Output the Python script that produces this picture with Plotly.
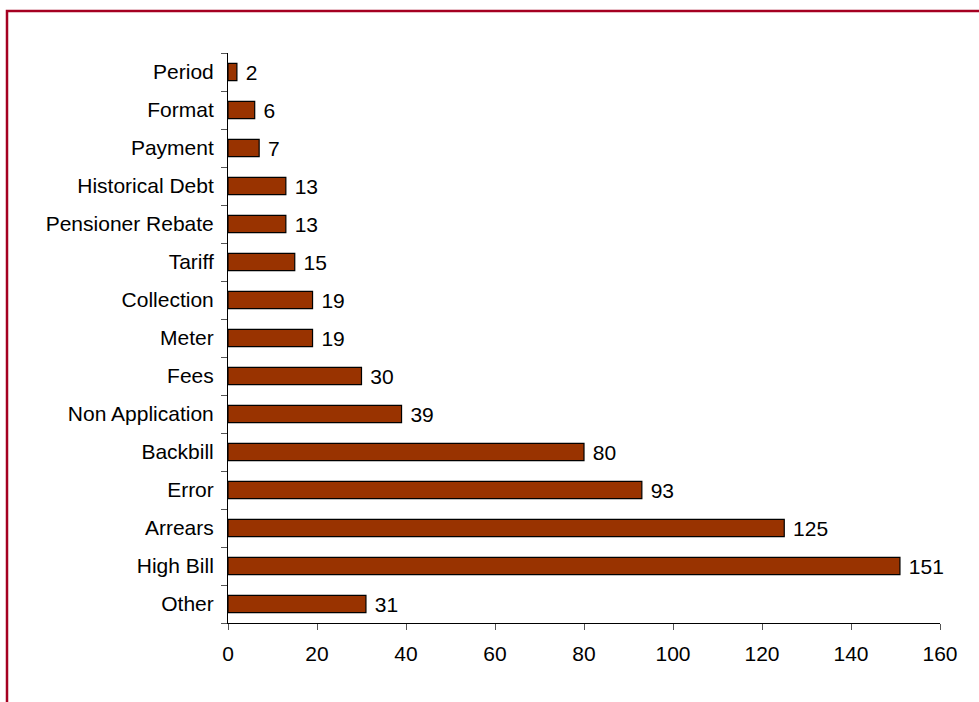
import plotly.graph_objects as go

# Complaint categories (bottom to top) and their counts
categories = [
    "Other", "High Bill", "Arrears", "Error", "Backbill", "Non Application",
    "Fees", "Meter", "Collection", "Tariff", "Pensioner Rebate",
    "Historical Debt", "Payment", "Format", "Period",
]
counts = [31, 151, 125, 93, 80, 39, 30, 19, 19, 15, 13, 13, 7, 6, 2]
x_ticks = [0, 20, 40, 60, 80, 100, 120, 140, 160]

FONT = "Liberation Sans, Arial, sans-serif"
FSIZE = 21

fig = go.Figure(
    go.Bar(
        x=counts,
        y=categories,
        orientation="h",
        width=0.45,
        marker=dict(color="#993300", line=dict(color="#000000", width=1.2)),
        texttemplate=" %{x}",
        textposition="outside",
        constraintext="none",
        textfont=dict(family=FONT, size=FSIZE, color="#000000"),
        cliponaxis=False,
    )
)

fig.update_layout(
    width=979,
    height=702,
    margin=dict(l=228, r=39, t=53, b=79),
    paper_bgcolor="white",
    plot_bgcolor="white",
    showlegend=False,
    font=dict(family=FONT, size=FSIZE, color="#000000"),
    xaxis=dict(
        range=[0, 160],
        tickvals=x_ticks,
        showgrid=False,
        zeroline=False,
        showline=True,
        linecolor="#000000",
        linewidth=1,
        ticks="outside",
        ticklen=6,
        tickcolor="#555555",
        tickfont=dict(family=FONT, size=FSIZE, color="#000000"),
        ticklabelstandoff=6,
    ),
    yaxis=dict(
        type="category",
        categoryorder="array",
        categoryarray=categories,
        range=[-0.5, len(categories) - 0.5],
        showgrid=False,
        zeroline=False,
        showline=True,
        linecolor="#000000",
        linewidth=1,
        ticks="outside",
        tickson="boundaries",
        ticklen=6,
        tickcolor="#555555",
        tickfont=dict(family=FONT, size=FSIZE, color="#000000"),
        ticklabelstandoff=9,
    ),
    shapes=[
        # outer frame: top and left edges visible
        dict(
            type="rect",
            xref="paper",
            yref="paper",
            x0=(7 - 228) / 712,
            x1=(1000 - 228) / 712,
            y0=(623 - 720) / 570,
            y1=(623 - 11) / 570,
            line=dict(color="#A50021", width=2.5),
            fillcolor="rgba(0,0,0,0)",
            layer="above",
        )
    ],
)

fig.write_html("out.html")
